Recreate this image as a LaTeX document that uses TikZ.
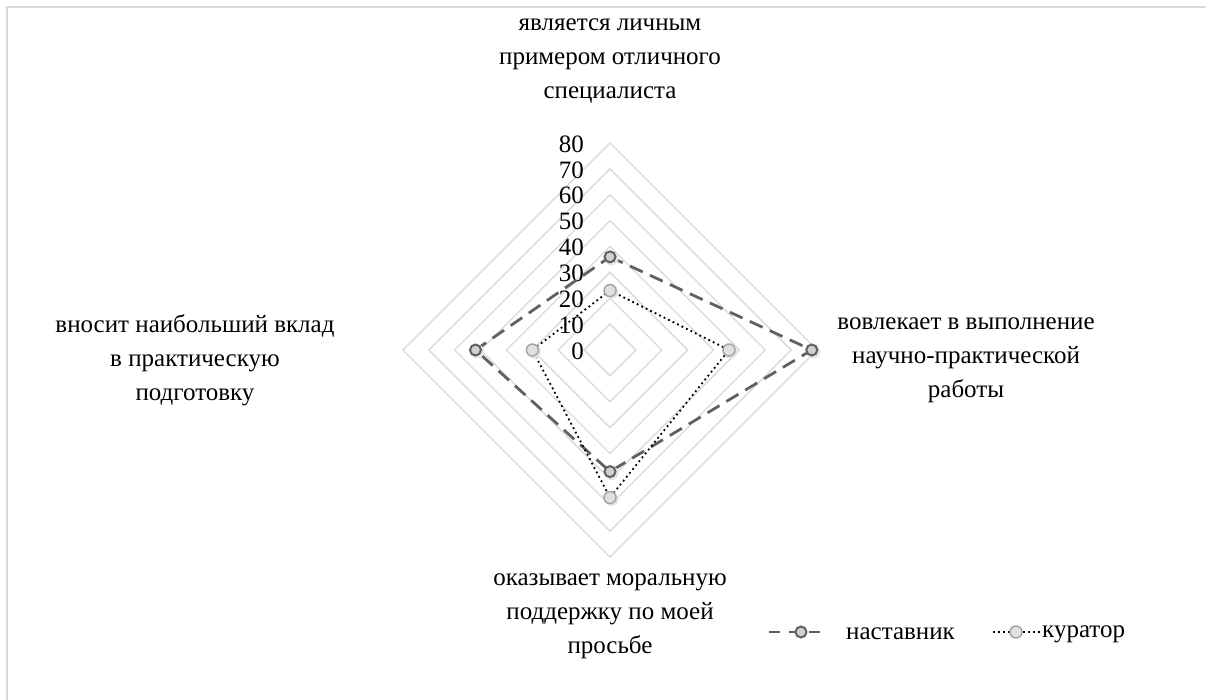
\documentclass[tikz,border=0pt]{standalone}
\usepackage{fontspec}
\newfontfamily\fa{LiberationSerif-Regular.ttf}
\newcommand\lblfont{\fa\fontsize{25}{34}\selectfont}
\begin{document}
\begin{tikzpicture}[x=1pt,y=-1pt]
\tikzset{
  ticklbl/.style={anchor=east,inner sep=0pt},
  ring/.style={draw=black!15,line width=1.3pt},
  mentor/.style={draw=black!62,line width=2.8pt,dash pattern=on 14pt off 8pt},
  curator/.style={draw=black,line width=1.8pt,dash pattern=on 1.8pt off 3.2pt},
  mmark/.style={circle,draw=black!62,fill=black!18,line width=2pt,minimum size=11pt,inner sep=0pt},
  cmark/.style={circle,draw=black!35,fill=black!12,line width=1.5pt,minimum size=12pt,inner sep=0pt},
  shad/.style={circle,fill=black!10,minimum size=14pt,inner sep=0pt}
}
\useasboundingbox (0,0) rectangle (1206,700);
\draw[black!15,line width=1.6pt] (7,700) -- (7,7) -- (1206,7);
% rings
\draw[ring] (610,350-25.875) -- (610+25.875,350) -- (610,350+25.875) -- (610-25.875,350) -- cycle;
\draw[ring] (610,350-51.75) -- (610+51.75,350) -- (610,350+51.75) -- (610-51.75,350) -- cycle;
\draw[ring] (610,350-77.625) -- (610+77.625,350) -- (610,350+77.625) -- (610-77.625,350) -- cycle;
\draw[ring] (610,350-103.5) -- (610+103.5,350) -- (610,350+103.5) -- (610-103.5,350) -- cycle;
\draw[ring] (610,350-129.375) -- (610+129.375,350) -- (610,350+129.375) -- (610-129.375,350) -- cycle;
\draw[ring] (610,350-155.25) -- (610+155.25,350) -- (610,350+155.25) -- (610-155.25,350) -- cycle;
\draw[ring] (610,350-181.125) -- (610+181.125,350) -- (610,350+181.125) -- (610-181.125,350) -- cycle;
\draw[ring] (610,350-207) -- (610+207,350) -- (610,350+207) -- (610-207,350) -- cycle;
% ticks
\node[ticklbl,font=\lblfont] (t0) at (584,351) {0};
\node[ticklbl,font=\lblfont] (t10) at (584,325.1) {10};
\node[ticklbl,font=\lblfont] (t20) at (584,299.3) {20};
\node[ticklbl,font=\lblfont] (t30) at (584,273.4) {30};
\node[ticklbl,font=\lblfont] (t40) at (584,247.5) {40};
\node[ticklbl,font=\lblfont] (t50) at (584,221.6) {50};
\node[ticklbl,font=\lblfont] (t60) at (584,195.8) {60};
\node[ticklbl,font=\lblfont] (t70) at (584,169.9) {70};
\node[ticklbl,font=\lblfont] (t80) at (584,144) {80};
% axis labels
\node[align=center,inner sep=0pt,font=\lblfont] (top) at (610,61) {является личным\\примером отличного\\специалиста};
\node[align=center,inner sep=0pt,font=\lblfont] (right) at (966,360) {вовлекает в выполнение\\научно-практической\\работы};
\node[align=center,inner sep=0pt,font=\lblfont] (left) at (195,360) {вносит наибольший вклад\\в практическую\\подготовку};
\node[align=center,inner sep=0pt,font=\lblfont] (bottom) at (610,616) {оказывает моральную\\поддержку по моей\\просьбе};
% data points
\coordinate (m1) at (610,256.85);
\coordinate (m2) at (811.8,350);
\coordinate (m3) at (610,471.6);
\coordinate (m4) at (475.5,350);
\coordinate (c1) at (610,290.5);
\coordinate (c2) at (729,350);
\coordinate (c3) at (610,497.5);
\coordinate (c4) at (532.4,350);
\draw[mentor] (m1) -- (m2) -- (m3) -- (m4) -- cycle;
\draw[curator] (c1) -- (c2) -- (c3) -- (c4) -- cycle;
\node[shad] at ([shift={(1.5,1.5)}]m1) {};
\node[shad] at ([shift={(1.5,1.5)}]m2) {};
\node[shad] at ([shift={(1.5,1.5)}]m3) {};
\node[shad] at ([shift={(1.5,1.5)}]m4) {};
\node[mmark] (pm1) at (m1) {};
\node[mmark] (pm2) at (m2) {};
\node[mmark] (pm3) at (m3) {};
\node[mmark] (pm4) at (m4) {};
\node[shad] at ([shift={(1.5,1.5)}]c1) {};
\node[shad] at ([shift={(1.5,1.5)}]c2) {};
\node[shad] at ([shift={(1.5,1.5)}]c3) {};
\node[shad] at ([shift={(1.5,1.5)}]c4) {};
\node[cmark] (pc1) at (c1) {};
\node[cmark] (pc2) at (c2) {};
\node[cmark] (pc3) at (c3) {};
\node[cmark] (pc4) at (c4) {};
% legend
\coordinate (la) at (769,632);
\coordinate (lb) at (826,632);
\draw[mentor,dash pattern=on 11pt off 9pt] (la) -- (lb);
\node[mmark] (lm) at (801,632) {};
\node[anchor=west,inner sep=0pt,font=\lblfont] (ln) at (846,634) {наставник};
\coordinate (lc) at (993,632);
\coordinate (ld) at (1040,632);
\draw[curator] (lc) -- (ld);
\node[cmark] (lk) at (1016,632) {};
\node[anchor=west,inner sep=0pt,font=\lblfont] (lt) at (1042,634) {куратор};
\end{tikzpicture}
\end{document}
